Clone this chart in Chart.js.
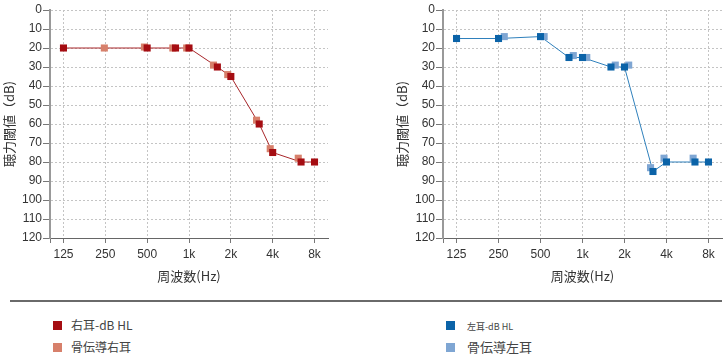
<!DOCTYPE html>
<html>
<head>
<meta charset="utf-8">
<script src="https://cdn.jsdelivr.net/npm/chart.js@4/dist/chart.umd.min.js"></script>
<style>
  html, body { margin: 0; padding: 0; background: #fff; }
  #wrap { position: relative; width: 728px; height: 360px; overflow: hidden; font-family: "Noto Sans CJK JP", "Liberation Sans", sans-serif; }
  .cv { position: absolute; top: 0; }
  .sep { position: absolute; left: 10px; top: 300px; width: 712px; height: 2px; background: #6a6a6a; }
  .sq { position: absolute; width: 9px; height: 9px; }
  .lt { position: absolute; color: #444; white-space: nowrap; line-height: 1; }
</style>
</head>
<body>
<div id="wrap">
  <div class="cv" style="left:0px;width:340px;height:290px;"><canvas id="cR" width="340" height="290"></canvas></div>
  <div class="cv" style="left:393px;width:335px;height:290px;"><canvas id="cL" width="335" height="290"></canvas></div>
  <div class="sep"></div>
  <div class="sq" style="left:53px;top:321px;background:#A50D12;"></div>
  <div class="lt" style="left:71px;top:319px;font-size:12px;">右耳-dB HL</div>
  <div class="sq" style="left:53px;top:343px;background:#D7806B;"></div>
  <div class="lt" style="left:71px;top:341px;font-size:12px;">骨伝導右耳</div>
  <div class="sq" style="left:446px;top:321px;background:#0B63A8;"></div>
  <div class="lt" style="left:467px;top:322px;font-size:9px;">左耳-dB HL</div>
  <div class="sq" style="left:446px;top:343px;background:#7FA6D3;"></div>
  <div class="lt" style="left:467px;top:340px;font-size:13px;">骨伝導左耳</div>
</div>
<script>
// ---- data ----
const freqTicks = [125, 250, 500, 1000, 2000, 4000, 8000];
const tickLabels = ['125', '250', '500', '1k', '2k', '4k', '8k'];

const rightAirFreq = [125, 500, 800, 1000, 1600, 2000, 3200, 4000, 6400, 8000];
const rightAirDb   = [20, 20, 20, 20, 30, 35, 60, 75, 80, 80];
const rightBoneFreq = [246, 478, 765, 962, 1500, 1900, 3060, 3840, 6110];
const rightBoneDb   = [20, 19.5, 20, 20, 29, 34, 58, 73, 78];

const leftAirFreq = [125, 250, 500, 800, 1000, 1600, 2000, 3200, 4000, 6400, 8000];
const leftAirDb   = [15, 15, 14, 25, 25, 30, 30, 85, 80, 80, 80];
const leftBoneFreq = [275, 531, 859, 1073, 1718, 2144, 3075, 3840, 6210];
const leftBoneDb   = [14, 14, 24, 25, 29, 29, 83, 78, 78];

const yTitle = '聴力閾値（dB)';
const xTitle = '周波数(Hz)';

function pts(fs, ds) { return fs.map((f, i) => ({ x: f, y: ds[i] })); }

function makeChart(id, airF, airD, boneF, boneD, airColor, boneColor, lineColor, padRight) {
  const tickFont = { family: '"Liberation Sans", Arial, sans-serif', size: 12 };
  const titleFont = { family: '"Noto Sans CJK JP", sans-serif', size: 13 };
  return new Chart(document.getElementById(id), {
    type: 'line',
    data: {
      datasets: [
        { data: pts(airF, airD), showLine: false, pointStyle: 'rect', pointRadius: 5, pointHoverRadius: 5,
          pointBorderWidth: 0, pointBackgroundColor: airColor, borderColor: airColor, order: 0 },
        { data: pts(boneF, boneD), showLine: false, pointStyle: 'rect', pointRadius: 5, pointHoverRadius: 5,
          pointBorderWidth: 0, pointBackgroundColor: boneColor, borderColor: boneColor, order: 1 },
        { data: pts(airF, airD), showLine: true, pointRadius: 0, borderColor: lineColor, borderWidth: 1,
          tension: 0, fill: false, order: 2 }
      ]
    },
    options: {
      responsive: false,
      animation: false,
      events: [],
      layout: { padding: { left: 0, right: padRight, top: 10, bottom: 5 } },
      plugins: { legend: { display: false }, tooltip: { enabled: false } },
      scales: {
        x: {
          type: 'logarithmic',
          min: 100, max: 10000,
          afterBuildTicks: (s) => { s.ticks = [{ value: s.min }].concat(freqTicks.map(v => ({ value: v }))); },
          afterFit: (s) => { s.height = 47; },
          ticks: {
            autoSkip: false, maxRotation: 0, minRotation: 0, padding: 4,
            color: '#333', font: tickFont,
            callback: (v) => { const i = freqTicks.indexOf(v); return i >= 0 ? tickLabels[i] : ''; }
          },
          grid: { color: '#c4c4c4', lineWidth: 1, drawTicks: true, tickLength: 5,
                  tickColor: '#777', tickBorderDash: [], tickWidth: 1 },
          border: { display: true, color: '#666', width: 1, dash: [2, 2] },
          title: { display: true, text: xTitle, color: '#333', font: titleFont, padding: { top: 1, bottom: 1 } }
        },
        y: {
          reverse: true,
          min: 0, max: 120,
          afterFit: (s) => { s.width = 50; },
          ticks: { stepSize: 10, padding: 1, color: '#333', font: tickFont },
          grid: { color: '#c4c4c4', lineWidth: 1, drawTicks: true, tickLength: 7,
                  tickColor: '#777', tickBorderDash: [], tickWidth: 1 },
          border: { display: true, color: '#999', width: 2, dash: [2, 2] },
          title: { display: true, text: yTitle, color: '#333', font: titleFont, padding: { top: 1, bottom: 1 } }
        }
      }
    }
  });
}

makeChart('cR', rightAirFreq, rightAirDb, rightBoneFreq, rightBoneDb, '#A50D12', '#D7806B', '#A8262A', 12);
makeChart('cL', leftAirFreq, leftAirDb, leftBoneFreq, leftBoneDb, '#0B63A8', '#7FA6D3', '#2F80BC', 6);
</script>
</body>
</html>
